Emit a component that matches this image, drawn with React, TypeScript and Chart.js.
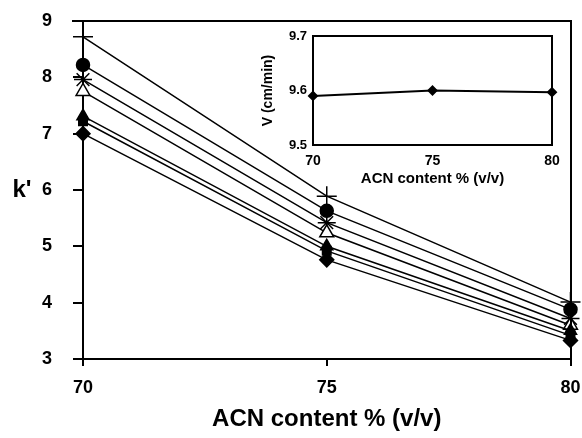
import { useEffect, useRef } from 'react';
import { Chart, registerables } from 'chart.js';
Chart.register(...registerables);

const FONT = "'Liberation Sans', Arial, Helvetica, sans-serif";

// ACN content % (v/v)
const acn = [70, 75, 80];
// k' series (top to bottom)
const kPlus = [8.72, 5.89, 4.01];
const kCircle = [8.22, 5.63, 3.88];
const kStar = [7.96, 5.42, 3.72];
const kOpenTriangle = [7.75, 5.24, 3.6];
const kTriangle = [7.31, 5.0, 3.5];
const kSquare = [7.22, 4.92, 3.42];
const kDiamond = [7.0, 4.76, 3.33];
const xTicks = [70, 75, 80];
const yTicks = [3, 4, 5, 6, 7, 8, 9];

// inset: linear velocity V (cm/min)
const insetV = [9.59, 9.6, 9.597];
const insetYTicks = [9.5, 9.6, 9.7];

const series = (data: number[], style: string, radius: number, fill = '#000') => ({
  data: acn.map((x, i) => ({ x, y: data[i] })),
  borderColor: '#000',
  borderWidth: 1.5,
  pointStyle: style,
  pointRadius: radius,
  pointHoverRadius: radius,
  pointBackgroundColor: fill,
  pointBorderColor: '#000',
  pointBorderWidth: 1.5,
  tension: 0,
  fill: false,
  clip: false as any,
});

const zeroPadX = (h: number) => (s: any) => {
  s.height = h;
  s.paddingLeft = 0;
  s.paddingRight = 0;
};
const zeroPadY = (w: number) => (s: any) => {
  s.width = w;
  s.paddingTop = 0;
  s.paddingBottom = 0;
};

const mainFrame = {
  id: 'mainFrame',
  afterDatasetsDraw(chart: any) {
    const { ctx, chartArea } = chart;
    const top = Math.round(chartArea.top);
    const right = Math.round(chartArea.right);
    const left = Math.round(chartArea.left);
    const bottom = Math.round(chartArea.bottom);
    ctx.save();
    ctx.strokeStyle = '#000';
    ctx.lineWidth = 2;
    ctx.beginPath();
    ctx.moveTo(left - 11, top);
    ctx.lineTo(right, top);
    ctx.lineTo(right, bottom + 7);
    ctx.stroke();
    ctx.fillStyle = '#000';
    ctx.font = `bold 24px ${FONT}`;
    ctx.textAlign = 'center';
    ctx.textBaseline = 'middle';
    ctx.fillText("k'", 22, (top + bottom) / 2);
    ctx.restore();
  },
};

const insetFrame = {
  id: 'insetFrame',
  afterDatasetsDraw(chart: any) {
    const { ctx, chartArea } = chart;
    const top = Math.round(chartArea.top);
    const right = Math.round(chartArea.right);
    const left = Math.round(chartArea.left);
    const bottom = Math.round(chartArea.bottom);
    ctx.save();
    ctx.strokeStyle = '#000';
    ctx.lineWidth = 2;
    ctx.strokeRect(left, top, right - left, bottom - top);
    ctx.restore();
  },
};

export default function App() {
  const mainRef = useRef<HTMLCanvasElement>(null);
  const insetRef = useRef<HTMLCanvasElement>(null);

  useEffect(() => {
    document.body.style.margin = '0';
    const main = new Chart(mainRef.current!, {
      type: 'line',
      data: {
        datasets: [
          series(kDiamond, 'rectRot', 7),
          series(kSquare, 'rect', 6),
          series(kTriangle, 'triangle', 7),
          series(kOpenTriangle, 'triangle', 8, '#fff'),
          series(kStar, 'star', 9),
          series(kCircle, 'circle', 6.5),
          series(kPlus, 'cross', 10),
        ] as any,
      },
      options: {
        responsive: false,
        animation: false,
        events: [],
        layout: { padding: { left: 0, top: 21, right: 10, bottom: 0 } },
        plugins: { legend: { display: false }, tooltip: { enabled: false } },
        scales: {
          x: {
            type: 'linear',
            min: 70,
            max: 80,
            afterBuildTicks: (s: any) => { s.ticks = xTicks.map((v) => ({ value: v })); },
            ticks: { color: '#000', font: { family: FONT, size: 18, weight: 'bold' }, padding: 11 },
            grid: { drawOnChartArea: false, tickLength: 7, color: '#000', lineWidth: 2 },
            border: { color: '#000', width: 2 },
            title: { display: true, text: 'ACN content % (v/v)', color: '#000', font: { family: FONT, size: 24, weight: 'bold' }, padding: { top: 0, bottom: 4 } },
            afterFit: zeroPadX(79),
          },
          y: {
            type: 'linear',
            min: 3,
            max: 9,
            afterBuildTicks: (s: any) => { s.ticks = yTicks.map((v) => ({ value: v })); },
            ticks: { color: '#000', font: { family: FONT, size: 18, weight: 'bold' }, padding: 21 },
            grid: { drawOnChartArea: false, tickLength: 10, color: '#000', lineWidth: 2 },
            border: { color: '#000', width: 2 },
            afterFit: zeroPadY(83),
          },
        },
      } as any,
      plugins: [mainFrame],
    });

    const inset = new Chart(insetRef.current!, {
      type: 'line',
      data: {
        datasets: [
          {
            data: acn.map((x, i) => ({ x, y: insetV[i] })),
            borderColor: '#000',
            borderWidth: 2,
            pointStyle: 'rectRot',
            pointRadius: 4,
            pointBackgroundColor: '#000',
            pointBorderColor: '#000',
            tension: 0,
            clip: false,
          } as any,
        ],
      },
      options: {
        responsive: false,
        animation: false,
        events: [],
        layout: { padding: { left: 0, top: 10, right: 18, bottom: 0 } },
        plugins: { legend: { display: false }, tooltip: { enabled: false } },
        scales: {
          x: {
            type: 'linear',
            min: 70,
            max: 80,
            afterBuildTicks: (s: any) => { s.ticks = xTicks.map((v) => ({ value: v })); },
            ticks: { color: '#000', font: { family: FONT, size: 14, weight: 'bold' }, padding: 8 },
            grid: { drawOnChartArea: false, drawTicks: false },
            border: { color: '#000', width: 2 },
            title: { display: true, text: 'ACN content % (v/v)', color: '#000', font: { family: FONT, size: 15, weight: 'bold' }, padding: { top: 0, bottom: 8 } },
            afterFit: zeroPadX(51),
          },
          y: {
            type: 'linear',
            min: 9.5,
            max: 9.7,
            afterBuildTicks: (s: any) => { s.ticks = insetYTicks.map((v) => ({ value: v })); },
            ticks: { color: '#000', font: { family: FONT, size: 13, weight: 'bold' }, padding: 6, callback: (v: any) => Number(v).toFixed(1) },
            grid: { drawOnChartArea: false, drawTicks: false },
            border: { color: '#000', width: 2 },
            title: { display: true, text: 'V (cm/min)', color: '#000', font: { family: FONT, size: 14, weight: 'bold' }, padding: { top: 20, bottom: 0 } },
            afterFit: zeroPadY(73),
          },
        },
      } as any,
      plugins: [insetFrame],
    });

    return () => {
      main.destroy();
      inset.destroy();
    };
  }, []);

  return (
    <div style={{ position: 'relative', width: 582, height: 438, background: '#fff' }}>
      <canvas ref={mainRef} width={582} height={438} style={{ position: 'absolute', left: 0, top: 0 }} />
      <canvas ref={insetRef} width={330} height={170} style={{ position: 'absolute', left: 240, top: 26 }} />
    </div>
  );
}
